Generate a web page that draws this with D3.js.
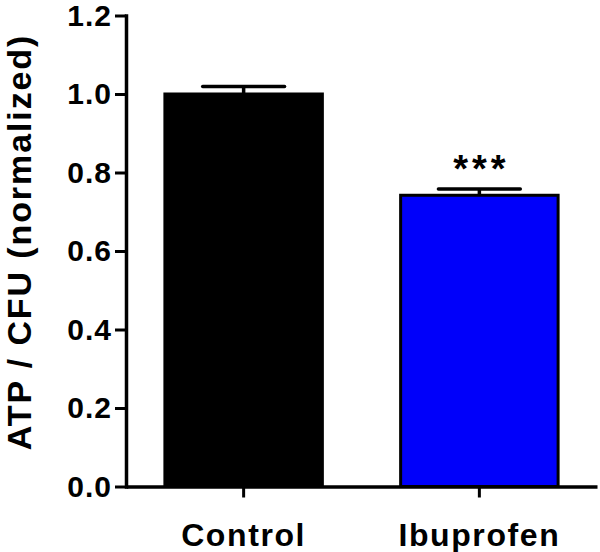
<!DOCTYPE html>
<html>
<head>
<meta charset="utf-8">
<script src="https://cdn.jsdelivr.net/npm/d3@7"></script>
<style>
  html, body { margin: 0; padding: 0; background: #fff; }
  svg { display: block; }
  text { font-family: "Liberation Sans", Arial, Helvetica, sans-serif; font-weight: bold; fill: #000; }
</style>
</head>
<body>
<svg id="chart" width="600" height="552"></svg>
<script>
const categories = ["Control", "Ibuprofen"];
const values = [1.0, 0.742];
const errors = [0.019, 0.016];
const barColors = ["#000000", "#0000fa"];
const significance = ["", "***"];
const yTicks = [0.0, 0.2, 0.4, 0.6, 0.8, 1.0, 1.2];
const yLabel = "ATP / CFU (normalized)";

const svg = d3.select("#chart");
const x = d3.scaleBand().domain(categories).range([126, 597]).paddingInner(0.332).paddingOuter(0.165);
const y = d3.scaleLinear().domain([0, 1.2]).range([486.5, 15.5]);

// bars
svg.selectAll("rect.bar").data(categories).join("rect")
  .attr("class", "bar")
  .attr("x", d => x(d))
  .attr("width", x.bandwidth())
  .attr("y", (d, i) => y(values[i]))
  .attr("height", (d, i) => y(0) - y(values[i]))
  .attr("fill", (d, i) => barColors[i])
  .attr("stroke", "#000")
  .attr("stroke-width", 3);

// error bars (upper only)
const eb = svg.selectAll("g.err").data(categories).join("g").attr("class", "err");
eb.append("line")
  .attr("x1", d => x(d) + x.bandwidth() / 2)
  .attr("x2", d => x(d) + x.bandwidth() / 2)
  .attr("y1", (d, i) => y(values[i]))
  .attr("y2", (d, i) => y(values[i] + errors[i]))
  .attr("stroke", "#000").attr("stroke-width", 3.5);
eb.append("line")
  .attr("x1", d => x(d) + x.bandwidth() / 2 - x.bandwidth() * 0.26)
  .attr("x2", d => x(d) + x.bandwidth() / 2 + x.bandwidth() * 0.26)
  .attr("y1", (d, i) => y(values[i] + errors[i]))
  .attr("y2", (d, i) => y(values[i] + errors[i]))
  .attr("stroke", "#000").attr("stroke-width", 3.5).attr("stroke-linecap", "round");

// significance
svg.selectAll("text.sig").data(categories).join("text")
  .attr("class", "sig")
  .attr("x", d => x(d) + x.bandwidth() / 2 + 2)
  .attr("y", (d, i) => y(values[i] + errors[i]) - 7)
  .attr("text-anchor", "middle")
  .style("font-size", "38px")
  .style("letter-spacing", "4px")
  .text((d, i) => significance[i]);

// y axis
const yAxis = svg.append("g").attr("transform", `translate(${x.range()[0]},0)`)
  .call(d3.axisLeft(y).tickValues(yTicks).tickFormat(d3.format(".1f")).tickSize(11).tickSizeOuter(0).tickPadding(3));
yAxis.select(".domain").attr("stroke-width", 3.5).attr("stroke-linecap", "square");
yAxis.selectAll(".tick line").attr("stroke-width", 3);
yAxis.selectAll(".tick text").style("font-size", "30px").style("letter-spacing", "1px").attr("font-family", null);

// x axis
const xAxis = svg.append("g").attr("transform", `translate(0,${y(0)})`)
  .call(d3.axisBottom(x).tickSize(11).tickSizeOuter(0).tickPadding(26));
xAxis.select(".domain").attr("stroke-width", 3.5);
xAxis.selectAll(".tick line").attr("stroke-width", 3);
xAxis.selectAll(".tick text").style("font-size", "32px").style("letter-spacing", "1.6px").attr("font-family", null);

// y label
svg.append("text")
  .attr("transform", "translate(31,242) rotate(-90)")
  .attr("text-anchor", "middle")
  .style("font-size", "34px")
  .style("letter-spacing", "1.9px")
  .text(yLabel);
</script>
</body>
</html>
